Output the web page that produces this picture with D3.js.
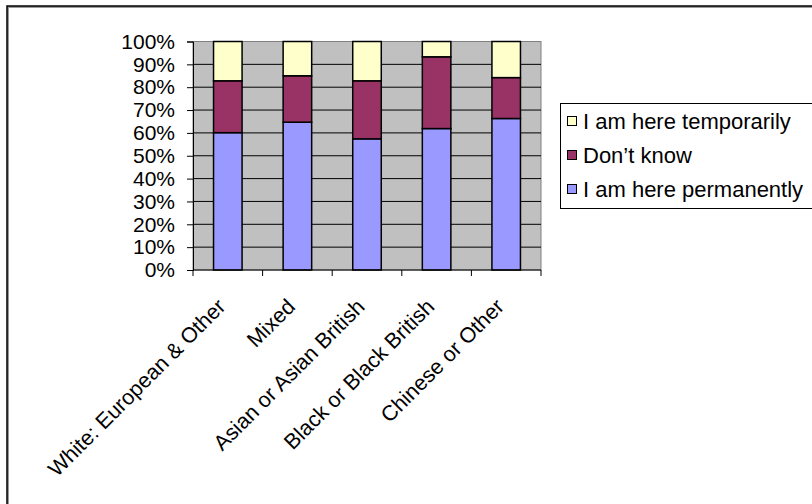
<!DOCTYPE html>
<html>
<head>
<meta charset="utf-8">
<script src="https://cdn.jsdelivr.net/npm/d3@7"></script>
<style>
  body { margin: 0; background: #fff; }
  text { font-family: "Liberation Sans", Arial, sans-serif; fill: #000; }
</style>
</head>
<body>
<div id="chart-area"></div>
<script>
// data
const categories = ["White: European & Other", "Mixed", "Asian or Asian British", "Black or Black British", "Chinese or Other"]
const permanent = [60.1, 64.7, 57.4, 61.9, 66.3]
const dontKnow = [22.7, 20.3, 25.4, 31.4, 17.9]
const temporary = [17.2, 15.0, 17.2, 6.7, 15.8]
const seriesNames = ["I am here permanently", "Don\u2019t know", "I am here temporarily"]
const seriesColors = ["#9999ff", "#993366", "#ffffcc"]
const yTicks = [0, 10, 20, 30, 40, 50, 60, 70, 80, 90, 100]

const W = 812, H = 504
const PLOT = { LEFT: 193, RIGHT: 541, TOP: 41.5, BOTTOM: 270 }

const svg = d3.select("#chart-area").append("svg")
  .attr("width", W)
  .attr("height", H)

// chart area border (runs past the picture on right / bottom)
svg.append("rect")
  .attr("x", 8).attr("y", 7)
  .attr("width", 840).attr("height", 520)
  .attr("fill", "none")
  .attr("stroke", "#999").attr("stroke-width", 2)
svg.append("rect")
  .attr("x", 7).attr("y", 6)
  .attr("width", 840).attr("height", 520)
  .attr("fill", "none")
  .attr("stroke", "#000").attr("stroke-width", 1.5)

// scales
const x = d3.scaleBand()
  .domain(categories)
  .range([PLOT.LEFT, PLOT.RIGHT])
  .paddingInner(0.59)
  .paddingOuter(0.295)
const xOuter = d3.scaleBand().domain(categories).range([PLOT.LEFT, PLOT.RIGHT])
const y = d3.scaleLinear().domain([0, 100]).range([PLOT.BOTTOM, PLOT.TOP])

// plot background
svg.append("rect")
  .attr("x", PLOT.LEFT).attr("y", PLOT.TOP)
  .attr("width", PLOT.RIGHT - PLOT.LEFT).attr("height", PLOT.BOTTOM - PLOT.TOP)
  .attr("fill", "#c0c0c0")
  .attr("stroke", "#808080").attr("stroke-width", 1)

// gridlines
svg.append("g")
  .selectAll("line")
  .data(yTicks.slice(1, -1))
  .join("line")
  .attr("x1", PLOT.LEFT).attr("x2", PLOT.RIGHT)
  .attr("y1", d => y(d)).attr("y2", d => y(d))
  .attr("stroke", "#000").attr("stroke-width", 1)

// stacked bars
const table = categories.map((c, i) => ({
  cat: c, s0: permanent[i], s1: dontKnow[i], s2: temporary[i]
}))
const stack = d3.stack().keys(["s0", "s1", "s2"])(table)

svg.append("g")
  .selectAll("g")
  .data(stack)
  .join("g")
  .attr("fill", (d, i) => seriesColors[i])
  .selectAll("rect")
  .data(d => d)
  .join("rect")
  .attr("x", d => x(d.data.cat))
  .attr("width", x.bandwidth())
  .attr("y", d => y(d[1]))
  .attr("height", d => y(d[0]) - y(d[1]))
  .attr("stroke", "#000")
  .attr("stroke-width", 1.5)

// y axis
const yAxis = svg.append("g")
  .attr("transform", `translate(${PLOT.LEFT}, 0)`)
  .call(d3.axisLeft(y).tickValues(yTicks).tickSize(6).tickPadding(12).tickFormat(d => d + "%"))
yAxis.select(".domain").attr("stroke", "#000")
yAxis.selectAll("text").attr("font-size", "21px").attr("font-family", "Liberation Sans, Arial, sans-serif")

// x axis, ticks at category boundaries
const xAxis = svg.append("g")
  .attr("transform", `translate(0, ${PLOT.BOTTOM})`)
xAxis.append("line")
  .attr("x1", PLOT.LEFT).attr("x2", PLOT.RIGHT)
  .attr("stroke", "#000")
xAxis.selectAll(".tk")
  .data(categories.concat(["end"]))
  .join("line")
  .attr("class", "tk")
  .attr("x1", d => d === "end" ? PLOT.RIGHT : xOuter(d))
  .attr("x2", d => d === "end" ? PLOT.RIGHT : xOuter(d))
  .attr("y1", 0).attr("y2", 6)
  .attr("stroke", "#000")
xAxis.selectAll(".lbl")
  .data(categories)
  .join("text")
  .attr("class", "lbl")
  .attr("text-anchor", "end")
  .attr("font-size", "21.5px")
  .attr("transform", d => `translate(${xOuter(d) + xOuter.bandwidth() / 2 - 1}, 38) rotate(-45)`)
  .text(d => d)

// legend
const legend = svg.append("g")
legend.append("rect")
  .attr("x", 560.5).attr("y", 103.5)
  .attr("width", 270).attr("height", 105)
  .attr("fill", "#fff")
  .attr("stroke", "#000").attr("stroke-width", 1)
const legendOrder = [2, 1, 0]
const li = legend.selectAll(".item")
  .data(legendOrder)
  .join("g")
  .attr("class", "item")
  .attr("transform", (d, i) => `translate(567, ${121 + i * 34})`)
li.append("rect")
  .attr("x", 0.5).attr("y", -4.5)
  .attr("width", 9).attr("height", 9)
  .attr("fill", d => seriesColors[d])
  .attr("stroke", "#000").attr("stroke-width", 1)
li.append("text")
  .attr("x", 16).attr("y", 0)
  .attr("dy", "0.35em")
  .attr("font-size", "22px")
  .text(d => seriesNames[d])
</script>
</body>
</html>
